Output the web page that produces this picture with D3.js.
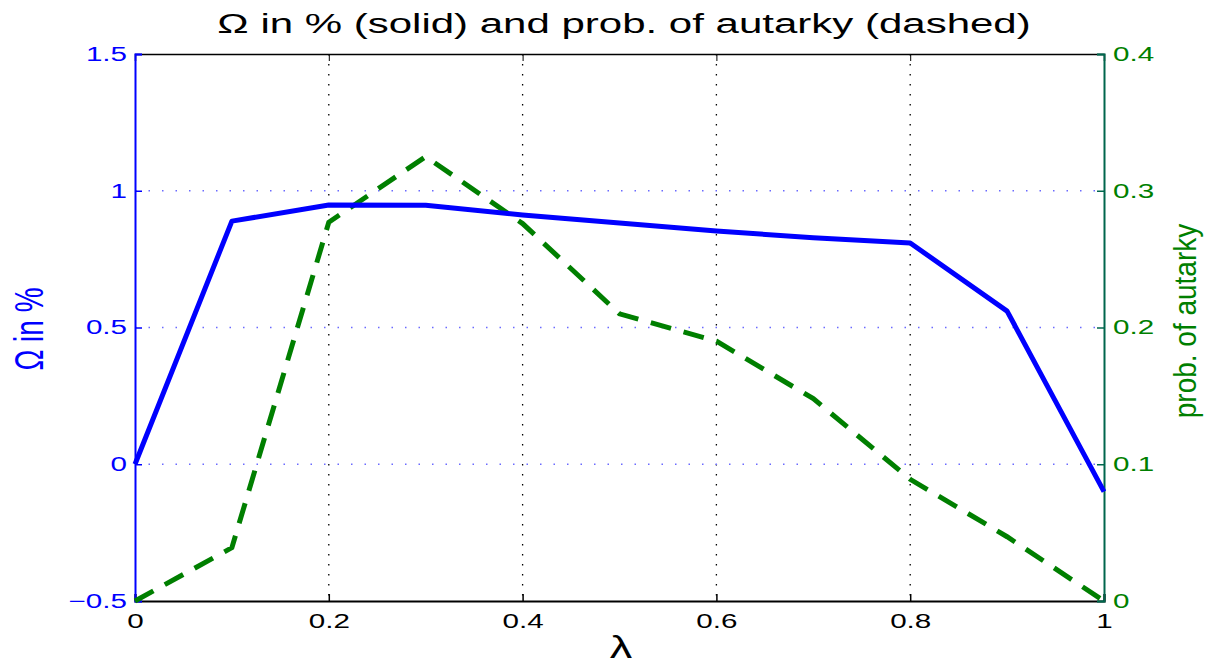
<!DOCTYPE html>
<html>
<head>
<meta charset="utf-8">
<script src="https://cdn.jsdelivr.net/npm/d3@7"></script>
<style>
body { margin: 0; background: #fff; }
text { font-family: "Liberation Sans", Arial, sans-serif; }
</style>
</head>
<body>
<svg id="chart"></svg>
<script>
var width = 1220;
var height = 666;

// lambda values on the x axis
var lambda = [0, 0.1, 0.2, 0.3, 0.4, 0.5, 0.6, 0.7, 0.8, 0.9, 1];
// Omega in % (solid, left axis)
var omega = [0, 0.889, 0.948, 0.947, 0.911, 0.882, 0.853, 0.828, 0.809, 0.56, -0.10];
// probability of autarky (dashed, right axis)
var autarky = [0, 0.039, 0.277, 0.325, 0.276, 0.210, 0.190, 0.148, 0.089, 0.047, 0];

var xTicks = [0, 0.2, 0.4, 0.6, 0.8, 1];
var leftTicks = [-0.5, 0, 0.5, 1, 1.5];
var rightTicks = [0, 0.1, 0.2, 0.3, 0.4];

var margin = {left: 135, right: 116, top: 54, bottom: 65};
var plotW = width - margin.left - margin.right;
var plotH = height - margin.top - margin.bottom;

var blue = "#0000ff";
var green = "#007f00";
var greenAxis = "#00664d";
var sx = 1.48; // the original figure is stretched sideways

var svg = d3.select("#chart").attr("width", width).attr("height", height);

var x = d3.scaleLinear().domain([0, 1]).range([0, plotW]);
var yL = d3.scaleLinear().domain([-0.5, 1.5]).range([plotH, 0]);
var yR = d3.scaleLinear().domain([0, 0.4]).range([plotH, 0]);

var g = svg.append("g").attr("transform", "translate(" + margin.left + "," + margin.top + ")");

// grid
g.append("g").selectAll("line")
    .data(xTicks.slice(1, -1))
    .enter().append("line")
    .attr("x1", function (d) { return x(d); })
    .attr("x2", function (d) { return x(d); })
    .attr("y1", 0).attr("y2", plotH)
    .style("stroke", "#000")
    .style("stroke-width", 1.3)
    .style("stroke-dasharray", "1.5,8.5");

g.append("g").selectAll("line")
    .data(leftTicks.slice(1, -1))
    .enter().append("line")
    .attr("x1", 0).attr("x2", plotW)
    .attr("y1", function (d) { return yL(d); })
    .attr("y2", function (d) { return yL(d); })
    .style("stroke", "#6a6aff")
    .style("stroke-width", 1.3)
    .style("stroke-dasharray", "1.5,12");

// axes
var fmt = function (d) { return d < 0 ? "\u2212" + Math.abs(d) : String(d); };

function styleTicks(axisG, color, gap, side) {
    axisG.attr("font-size", null);
    axisG.selectAll("text")
        .attr("font-size", 20)
        .style("font-size", "20px")
        .style("fill", color)
        .attr("x", side * gap / sx)
        .attr("transform", "scale(" + sx + ",1)");
}

var xAxis = g.append("g")
    .attr("transform", "translate(0," + plotH + ")")
    .call(d3.axisBottom(x).tickValues(xTicks).tickSize(-7).tickPadding(13).tickFormat(fmt));
xAxis.select(".domain").style("stroke", "#000").style("stroke-width", 2.2);
xAxis.selectAll("line").style("stroke", "#000").style("stroke-width", 1.5);
styleTicks(xAxis, "#000", 0, 0);

var topAxis = g.append("g")
    .call(d3.axisTop(x).tickValues(xTicks).tickSize(-7).tickFormat(""));
topAxis.select(".domain").style("stroke", "#000").style("stroke-width", 1.5);
topAxis.selectAll("line").style("stroke", "#000");

var leftAxis = g.append("g")
    .call(d3.axisLeft(yL).tickValues(leftTicks).tickSize(-7).tickPadding(8).tickFormat(fmt));
leftAxis.select(".domain").style("stroke", blue).style("stroke-width", 2);
leftAxis.selectAll("line").style("stroke", blue).style("stroke-width", 1.5);
styleTicks(leftAxis, blue, 8, -1);

var rightAxis = g.append("g")
    .attr("transform", "translate(" + plotW + ",0)")
    .call(d3.axisRight(yR).tickValues(rightTicks).tickSize(-7).tickPadding(9).tickFormat(fmt));
rightAxis.select(".domain").style("stroke", greenAxis).style("stroke-width", 2);
rightAxis.selectAll("line").style("stroke", greenAxis).style("stroke-width", 1.5);
styleTicks(rightAxis, green, 9, 1);

// lines
var idx = d3.range(lambda.length);

g.append("path")
    .datum(idx)
    .attr("fill", "none")
    .attr("stroke", green)
    .attr("stroke-width", 5)
    .attr("stroke-dasharray", "21,13")
    .attr("d", d3.line()
        .x(function (i) { return x(lambda[i]); })
        .y(function (i) { return yR(autarky[i]); }));

g.append("path")
    .datum(idx)
    .attr("fill", "none")
    .attr("stroke", blue)
    .attr("stroke-width", 5)
    .attr("stroke-linejoin", "round")
    .attr("d", d3.line()
        .x(function (i) { return x(lambda[i]); })
        .y(function (i) { return yL(omega[i]); }));

// title and labels
svg.append("text")
    .attr("transform", "translate(624,33) scale(1.5,1)")
    .attr("text-anchor", "middle")
    .style("font-size", "28px")
    .style("fill", "#000")
    .text("\u03A9 in % (solid) and prob. of autarky (dashed)");

svg.append("text")
    .attr("transform", "translate(621,658) scale(1.45,1)")
    .attr("text-anchor", "middle")
    .style("font-size", "31px")
    .style("fill", "#000")
    .text("\u03BB");

svg.append("text")
    .attr("transform", "translate(43,329) rotate(-90) scale(1,1.45)")
    .attr("text-anchor", "middle")
    .style("font-size", "28px")
    .style("fill", blue)
    .text("\u03A9 in %");

svg.append("text")
    .attr("transform", "translate(1196,321) rotate(-90) scale(1,1.15)")
    .attr("text-anchor", "middle")
    .style("font-size", "28px")
    .style("fill", green)
    .text("prob. of autarky");
</script>
</body>
</html>
